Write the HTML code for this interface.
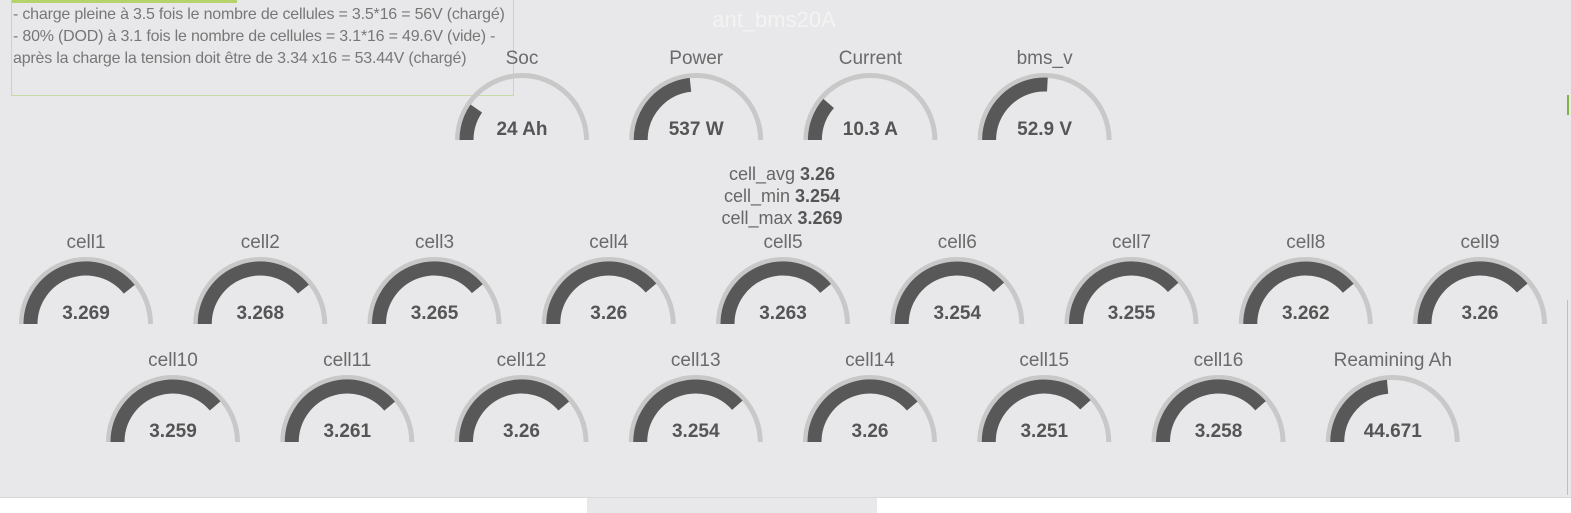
<!DOCTYPE html>
<html><head><meta charset="utf-8"><style>
body{margin:0;width:1571px;height:512px;overflow:hidden;background:#e8e8ea;font-family:"Liberation Sans",sans-serif;position:relative}
#note{position:absolute;left:11px;top:-2px;width:503px;height:98px;border:1px solid #c9dba4;color:#777;font-size:16px;line-height:22px;padding-left:1px;padding-top:5px;box-sizing:border-box;letter-spacing:-0.2px;white-space:nowrap}
#bottom{position:absolute;left:0;top:497px;width:1571px;height:15px;background:#fff;border-top:1px solid #d8d8d8}
</style></head><body>
<div id="note">- charge pleine à 3.5 fois le nombre de cellules = 3.5*16 = 56V (chargé)<br>- 80% (DOD) à 3.1 fois le nombre de cellules = 3.1*16 = 49.6V (vide) -<br>après la charge la tension doit être de 3.34 x16 = 53.44V (chargé)</div>
<div style="position:absolute;left:12px;top:0;width:225px;height:3px;background:#b5d36a"></div>
<div style="position:absolute;left:1567px;top:95px;width:2px;height:20px;background:#7cb342"></div>
<div style="position:absolute;left:1567px;top:300px;width:1px;height:195px;background:#b5d36a"></div>
<div id="bottom"><div style="position:absolute;left:587px;top:0;width:290px;height:15px;background:#e8e8ea"></div></div>
<svg id="g" width="1571" height="512" style="position:absolute;left:0;top:0">
<text x="774" y="27" text-anchor="middle" font-size="22" fill="#f3f3f3">ant_bms20A</text>
<g font-size="18" fill="#666" text-anchor="middle">
<text x="782" y="180">cell_avg <tspan font-weight="bold" fill="#555">3.26</tspan></text>
<text x="782" y="202">cell_min <tspan font-weight="bold" fill="#555">3.254</tspan></text>
<text x="782" y="224">cell_max <tspan font-weight="bold" fill="#555">3.269</tspan></text>
</g>
</svg>
<script>
const labels=["Soc","Power","Current","bms_v","cell1","cell2","cell3","cell4","cell5","cell6","cell7","cell8","cell9","cell10","cell11","cell12","cell13","cell14","cell15","cell16","Reamining Ah"];
const values=[24,537,10.3,52.9,3.269,3.268,3.265,3.26,3.263,3.254,3.255,3.262,3.26,3.259,3.261,3.26,3.254,3.26,3.251,3.258,44.671];
const units=[" Ah"," W"," A"," V","","","","","","","","","","","","","","","","",""];
const mins=[0,0,0,40,2.5,2.5,2.5,2.5,2.5,2.5,2.5,2.5,2.5,2.5,2.5,2.5,2.5,2.5,2.5,2.5,0];
const maxs=[125,1150,45,65,3.48,3.48,3.48,3.48,3.48,3.48,3.48,3.48,3.48,3.48,3.48,3.48,3.48,3.48,3.48,3.48,95];
const svg=document.getElementById('g');const NS='http://www.w3.org/2000/svg';
function pos(i){
 if(i<4)return [522+i*174.2,140];
 if(i<13)return [86+(i-4)*174.25,324];
 return [173+(i-13)*174.25,442];
}
function arc(cx,cy,r,f){const a=Math.PI*(1-f);const x=cx+r*Math.cos(a),y=cy-r*Math.sin(a);return `M${cx-r},${cy} A${r},${r} 0 0 1 ${x.toFixed(2)},${y.toFixed(2)}`;}
labels.forEach((l,i)=>{
 const [cx,cy]=pos(i);
 const g=document.createElementNS(NS,'g');
 
 
 const bg=document.createElementNS(NS,'path');
 bg.setAttribute('d',arc(cx,cy,64.5,1));bg.setAttribute('fill','none');bg.setAttribute('stroke','#c8c8c8');bg.setAttribute('stroke-width','5');
 
 
 g.appendChild(bg);
 let f=(values[i]-mins[i])/(maxs[i]-mins[i]);f=Math.max(0,Math.min(1,f));
 const fg=document.createElementNS(NS,'path');
 fg.setAttribute('d',arc(cx,cy,55.5,f));fg.setAttribute('fill','none');fg.setAttribute('stroke','#585858');fg.setAttribute('stroke-width','14');
 
 
 g.appendChild(fg);
 const t=document.createElementNS(NS,'text');
 t.setAttribute('x',cx);t.setAttribute('y',cy-76);t.setAttribute('text-anchor','middle');t.setAttribute('font-size','19');t.setAttribute('fill','#6a6a6a');
 t.textContent=l;
 
 
 g.appendChild(t);
 const v=document.createElementNS(NS,'text');
 v.setAttribute('x',cx);v.setAttribute('y',cy-5);v.setAttribute('text-anchor','middle');v.setAttribute('font-size','19');v.setAttribute('font-weight','bold');v.setAttribute('fill','#555');
 v.textContent=values[i]+units[i];
 
 
 g.appendChild(v);
 svg.appendChild(g);
});
</script>
</body></html>
